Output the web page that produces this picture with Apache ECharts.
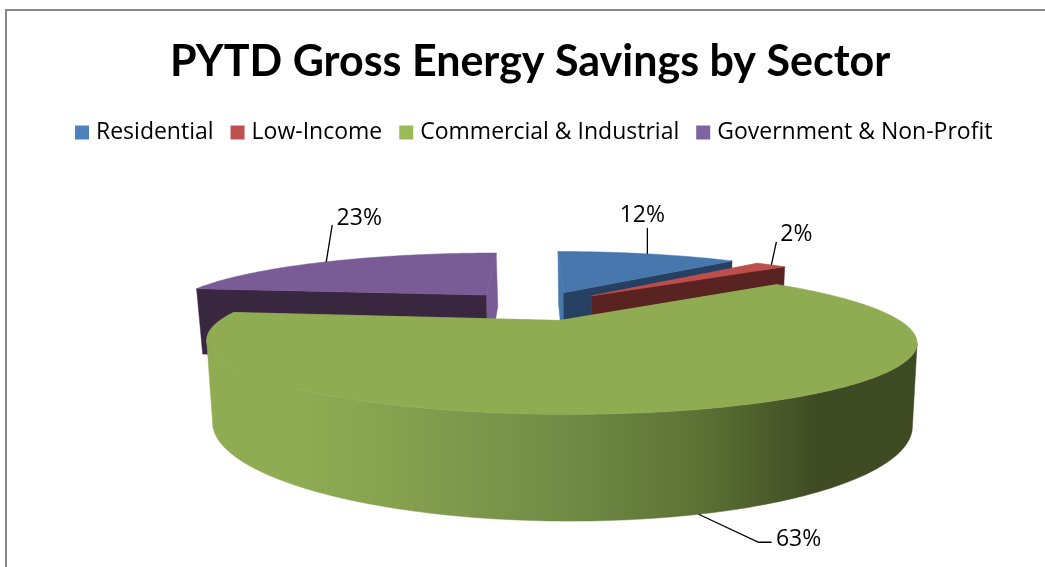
<!DOCTYPE html>
<html>
<head>
<meta charset="utf-8">
<script src="https://cdn.jsdelivr.net/npm/echarts@6/dist/echarts.min.js"></script>
<style>html,body{margin:0;padding:0;background:#fff}#c{width:1045px;height:567px}</style>
</head>
<body>
<div id="c"></div>
<script>
var titleText = 'PYTD Gross Energy Savings by Sector';
var categories = ['Residential', 'Low-Income', 'Commercial & Industrial', 'Government & Non-Profit'];
var values = [12, 2, 63, 23];
var legendColors = ['#4f81bd', '#c0504d', '#9bbb59', '#8064a2'];
var topColors = ['#4877ad', '#bd4e4b', '#90ac53', '#795c95'];
var wallColors = ['#254061', '#582321', '#90ac53', '#38273f'];

// projection of the tilted pie (perspective model)
var CX = 536, CY = 305.5, A = 318, B = 58.4, P = 0.27, EXPLODE = 0.25, DEPTH = 71, SHRINK = 0.985;
var total = values.reduce(function (a, b) { return a + b; }, 0);
var starts = [];
values.reduce(function (acc, v, i) { starts[i] = acc; return acc + v; }, 0);

function rad(v) { return v / total * Math.PI * 2; }
function project(X, Y, bottom) {
  var w = 1 / (1 - P * Y);
  var x = CX + A * X * w, y = CY + B * Y * w;
  if (bottom) { x = CX + (x - CX) * SHRINK + 1; y += DEPTH * w; }
  return [x, y];
}
function slicePoint(i, theta, r, bottom) {
  var mid = rad(starts[i] + values[i] / 2);
  var X = EXPLODE * Math.sin(mid) + r * Math.sin(theta);
  var Y = -EXPLODE * Math.cos(mid) - r * Math.cos(theta);
  return project(X, Y, bottom);
}
function arc(i, bottom) {
  var a0 = rad(starts[i]), a1 = rad(starts[i] + values[i]), n = Math.max(4, Math.round(values[i] * 4)), out = [];
  for (var k = 0; k <= n; k++) out.push(slicePoint(i, a0 + (a1 - a0) * k / n, 1, bottom));
  return out;
}
function poly(points, fill) {
  return { type: 'polygon', shape: { points: points }, style: { fill: fill, stroke: fill, lineWidth: 0.5 }, silent: true };
}
function line(points) {
  return { type: 'polyline', shape: { points: points }, style: { fill: null, stroke: '#000', lineWidth: 1.3 }, silent: true };
}
var labelSpecs = [
  { elbow: [0, -26], text: [-5, -38] },
  { elbow: [5, -23], text: [25, -30] },
  { elbow: [60, 28, 73, 28], text: [100, 25], bottom: true },
  { elbow: [6, -37], text: [33, -43] }
];
// which side of each wedge shows a dark cut face, and which shows a light one
var darkFaceAtEnd = [true, true, false, false];
function renderSlice(i) {
  var top = arc(i, false), bot = arc(i, true);
  var a0 = rad(starts[i]), a1 = rad(starts[i] + values[i]);
  var apex = slicePoint(i, 0, 0, false), apexB = slicePoint(i, 0, 0, true);
  var r0 = top[0], r0B = bot[0], r1 = top[top.length - 1], r1B = bot[bot.length - 1];
  var kids = [];
  var first = [r0, apex, apexB, r0B], last = [r1, apex, apexB, r1B];
  kids.push(poly(darkFaceAtEnd[i] ? first : last, topColors[i]));
  kids.push(poly(darkFaceAtEnd[i] ? last : first, wallColors[i]));
  if (i === 2) {
    // the outer wall is visible only between the left and right silhouette points
    var iR = 0, iL = 0;
    top.forEach(function (p, k) {
      if (p[0] > top[iR][0]) iR = k;
      if (p[0] < top[iL][0]) iL = k;
    });
    var grad = new echarts.graphic.LinearGradient(0, 0, 1, 0, [
      { offset: 0, color: '#90ac53' }, { offset: 0.1, color: '#90ac53' },
      { offset: 0.22, color: '#89a550' }, { offset: 0.5, color: '#728c47' },
      { offset: 0.69, color: '#5d7335' }, { offset: 0.86, color: '#3f4b23' },
      { offset: 1, color: '#3e4a22' }
    ]);
    kids.push(poly(top.slice(iR, iL + 1).concat(bot.slice(iR, iL + 1).reverse()), grad));
  }
  kids.push(poly([apex].concat(top), topColors[i]));

  var mid = (a0 + a1) / 2, spec = labelSpecs[i];
  var s = slicePoint(i, mid, 1, !!spec.bottom);
  var pts = [s];
  for (var k = 0; k < spec.elbow.length; k += 2) pts.push([s[0] + spec.elbow[k], s[1] + spec.elbow[k + 1]]);
  kids.push(line(pts));
  kids.push({
    type: 'text', silent: true,
    style: {
      text: Math.round(values[i] / total * 100) + '%',
      x: s[0] + spec.text[0], y: s[1] + spec.text[1],
      font: '23px "Open Sans"', fill: '#000', align: 'center', verticalAlign: 'middle'
    }
  });
  return { type: 'group', children: kids };
}

var series = categories.map(function (name, i) {
  return {
    type: 'custom', name: name, coordinateSystem: 'none',
    itemStyle: { color: legendColors[i] },
    data: [[values[i]]],
    animation: false,
    renderItem: function () { return renderSlice(i); }
  };
});
// back slices first, the large front slice last
series = [series[3], series[0], series[1], series[2]];

var chart = echarts.init(document.getElementById('c'), null, { renderer: 'canvas' });
chart.setOption({
  animation: false,
  backgroundColor: '#fff',
  title: {
    text: titleText, left: 165, top: 36,
    textStyle: { fontFamily: 'Lato', fontWeight: 'bold', fontSize: 43, color: '#000' }
  },
  legend: {
    data: categories, left: 70, top: 116, icon: 'rect',
    itemWidth: 14, itemHeight: 14, itemGap: 17,
    selectedMode: false,
    textStyle: { fontFamily: 'Open Sans', fontSize: 23, color: '#000', padding: [0, 0, 0, 2] }
  },
  graphic: [{
    type: 'rect', silent: true, z: 0,
    shape: { x: 6, y: 10, width: 1200, height: 800 },
    style: { fill: null, stroke: '#868686', lineWidth: 2 }
  }],
  series: series
});
</script>
</body>
</html>
